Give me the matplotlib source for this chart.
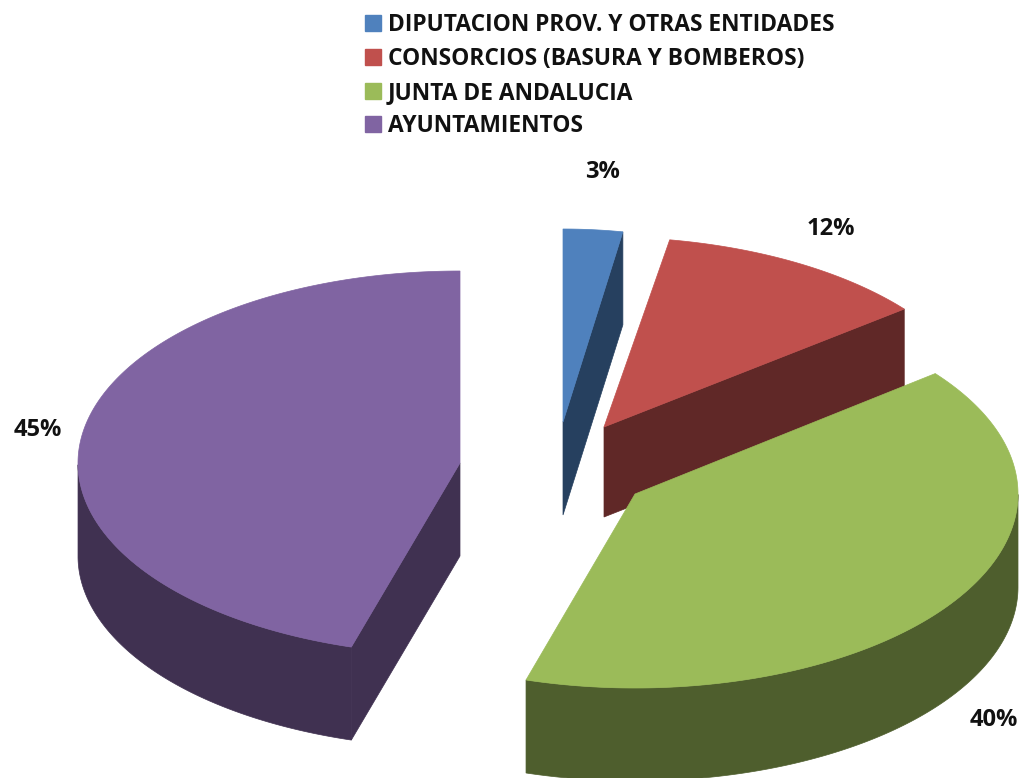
import numpy as np
import matplotlib
matplotlib.use("Agg")
import matplotlib.pyplot as plt
from matplotlib.patches import Polygon, Patch

categories = ["DIPUTACION PROV. Y OTRAS ENTIDADES", "CONSORCIOS (BASURA Y BOMBEROS)", "JUNTA DE ANDALUCIA", "AYUNTAMIENTOS"]
values = [3, 12, 40, 45]
labels = ["3%", "12%", "40%", "45%"]
top_colors = ["#4F81BD", "#C0504D", "#9BBB59", "#8064A2"]
side_colors = ["#26405F", "#602827", "#4E5E2D", "#403151"]

# apex x, apex y, semi-axis a, semi-axis b, depth (pixels of the figure canvas)
geom = [(563, 422, 349, 193, 93), (604, 427, 383, 190, 90), (635, 494, 383, 194, 93), (460, 463, 382, 192, 93)]
label_pos = [(602, 172), (831, 229), (994, 720), (38, 430)]
# which radial edge shows its side wall: end of the slice, or start of it
wall_edge = [1, 1, None, 0]
warp = np.radians(2.5)

plt.rcParams['font.family'] = ['Open Sans', 'DejaVu Sans']
fig = plt.figure(figsize=(10.23, 7.78), dpi=100)
ax = fig.add_axes([0, 0, 1, 1])
ax.set_xlim(0, 1023)
ax.set_ylim(778, 0)
ax.axis('off')

fr = np.cumsum([0] + values) / sum(values) * 2 * np.pi

def pts(g, t, dz=0):
    t = t - warp * np.sin(2 * t)
    return np.column_stack([g[0] + g[2] * np.sin(t), g[1] - g[3] * np.cos(t) + dz])

for i in [0, 1, 3, 2]:
    g = geom[i]
    th = np.linspace(fr[i], fr[i + 1], 300)
    arc = pts(g, th)
    apex = np.array([[g[0], g[1]]])
    d = g[4]
    vis = th[np.cos(th) <= 0]
    if len(vis) > 1:
        a1 = pts(g, vis)
        a2 = pts(g, vis[::-1], d)
        ax.add_patch(Polygon(np.vstack([a1, a2]), closed=True, fc=side_colors[i], ec=side_colors[i], lw=0.5))
    if wall_edge[i] is not None:
        t = fr[i + wall_edge[i]]
        e = pts(g, np.array([t]))
        quad = np.vstack([apex, e, e + [0, d], apex + [0, d]])
        ax.add_patch(Polygon(quad, closed=True, fc=side_colors[i], ec=side_colors[i], lw=0.5))
    ax.add_patch(Polygon(np.vstack([apex, arc]), closed=True, fc=top_colors[i], ec=top_colors[i], lw=0.5))
    ax.text(*label_pos[i], labels[i], ha='center', va='center', fontsize=17, fontweight='bold', color='#111111')

handles = [Patch(fc=c, ec=c) for c in top_colors]
ax.legend(handles, categories, loc='upper left', bbox_to_anchor=(365 / 1023, 1 - 13 / 778), frameon=False,
          prop={'size': 16.4, 'weight': 'bold'}, labelspacing=0.43, handlelength=0.7, handleheight=0.7,
          handletextpad=0.3, borderaxespad=0, borderpad=0, labelcolor='#111111')
fig.savefig("out.png", dpi=100)
